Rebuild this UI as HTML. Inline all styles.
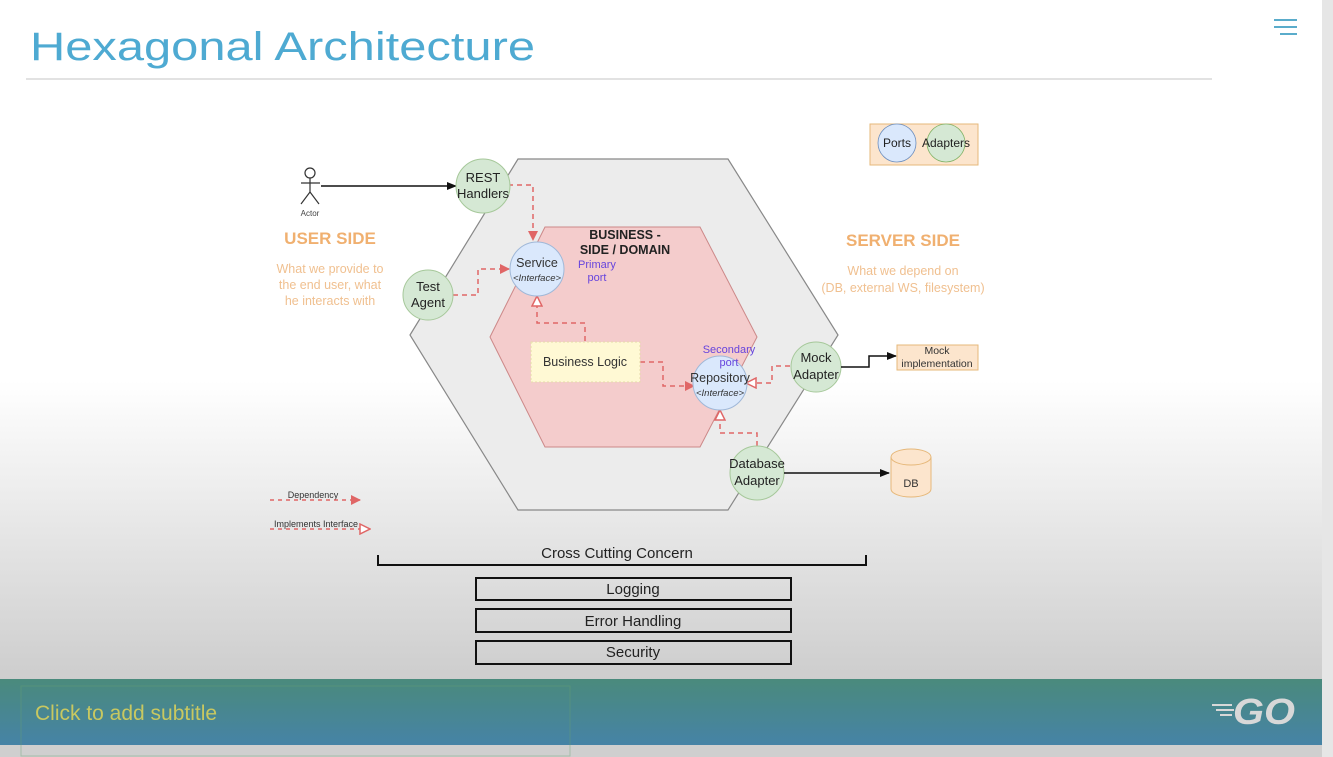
<!DOCTYPE html>
<html><head><meta charset="utf-8"><style>
html,body{margin:0;padding:0;width:1333px;height:757px;overflow:hidden;background:#c9c9c9}
svg{display:block}
text{font-family:"Liberation Sans",sans-serif}
</style></head><body>
<svg width="1333" height="757" viewBox="0 0 1333 757" xmlns="http://www.w3.org/2000/svg">
<defs>
<linearGradient id="bg" x1="0" y1="0" x2="0" y2="1">
<stop offset="0" stop-color="#ffffff"/><stop offset="0.56" stop-color="#ffffff"/><stop offset="0.72" stop-color="#ededed"/><stop offset="1" stop-color="#cdcdcd"/>
</linearGradient>
<linearGradient id="band" x1="0" y1="0" x2="0" y2="1">
<stop offset="0" stop-color="#4a8a7c"/><stop offset="1" stop-color="#4683a6"/>
</linearGradient>
<marker id="ad" markerWidth="10" markerHeight="10" refX="9" refY="5" orient="auto" markerUnits="userSpaceOnUse"><path d="M0,0 L10,5 L0,10z" fill="#e06666"/></marker>
<marker id="ai" markerWidth="12" markerHeight="12" refX="11" refY="6" orient="auto" markerUnits="userSpaceOnUse"><path d="M1,1 L11,6 L1,11z" fill="#fff" stroke="#e06666" stroke-width="1.5"/></marker>
<marker id="ab" markerWidth="10" markerHeight="10" refX="9" refY="5" orient="auto" markerUnits="userSpaceOnUse"><path d="M0,1 L10,5 L0,9z" fill="#111"/></marker>
</defs>
<rect x="0" y="0" width="1333" height="757" fill="#cfcfcf"/>
<rect x="0" y="0" width="1322" height="680" fill="url(#bg)"/>
<rect x="1322" y="0" width="11" height="757" fill="#e6e6e6"/>
<rect x="0" y="679" width="1322" height="66" fill="url(#band)"/>
<rect x="21" y="686" width="549" height="70" fill="none" stroke="#6aa070" stroke-width="1" opacity="0.4"/>
<text x="35" y="720" font-size="21" fill="#c8c860">Click to add subtitle</text>
<text x="1233" y="724" font-size="36" font-weight="bold" font-style="italic" fill="#d8d8d8" textLength="62" lengthAdjust="spacingAndGlyphs">GO</text>
<g stroke="#d8d8d8" stroke-width="2"><line x1="1212" y1="705" x2="1232" y2="705"/><line x1="1216" y1="710" x2="1234" y2="710"/><line x1="1220" y1="715" x2="1232" y2="715"/></g>
<g stroke="#5aaccb" stroke-width="2"><line x1="1274" y1="20" x2="1297" y2="20"/><line x1="1274" y1="27" x2="1297" y2="27"/><line x1="1280" y1="34" x2="1297" y2="34"/></g>
<text x="30" y="60" font-size="40" fill="#4eaad2" textLength="505" lengthAdjust="spacingAndGlyphs">Hexagonal Architecture</text>
<line x1="26" y1="79" x2="1212" y2="79" stroke="#e2e2e2" stroke-width="2"/>

<polygon points="410,335 518,159 728,159 838,335 728,510 518,510" fill="#ececec" stroke="#888" stroke-width="1.2"/>
<polygon points="490,337 545,227 700,227 757,337 700,447 545,447" fill="#f4cccc" stroke="#c88" stroke-width="1"/>

<rect x="870" y="124" width="108" height="41" fill="#fce5cd" stroke="#e6b87a"/>
<circle cx="897" cy="143" r="19" fill="#dae8fc" stroke="#6c8ebf" stroke-width="0.8"/>
<circle cx="946" cy="143" r="19" fill="#d5e8d4" stroke="#82b366" stroke-width="0.8"/>
<text x="897" y="147" font-size="12" text-anchor="middle" fill="#222">Ports</text>
<text x="946" y="147" font-size="12" text-anchor="middle" fill="#222">Adapters</text>

<g stroke="#333" stroke-width="1.2" fill="none"><circle cx="310" cy="173" r="5"/><line x1="310" y1="178" x2="310" y2="192"/><line x1="301" y1="183" x2="320" y2="183"/><line x1="310" y1="192" x2="301" y2="204"/><line x1="310" y1="192" x2="319" y2="204"/></g>
<text x="310" y="216" font-size="8" text-anchor="middle" fill="#444">Actor</text>
<line x1="321" y1="186" x2="456" y2="186" stroke="#111" stroke-width="1.5" marker-end="url(#ab)"/>

<text x="330" y="244" font-size="17" font-weight="bold" text-anchor="middle" fill="#f0b070">USER SIDE</text>
<g font-size="12.5" text-anchor="middle" fill="#f0c090"><text x="330" y="273">What we provide to</text><text x="330" y="289">the end user, what</text><text x="330" y="305">he interacts with</text></g>
<text x="903" y="246" font-size="17" font-weight="bold" text-anchor="middle" fill="#f0b070">SERVER SIDE</text>
<g font-size="12.5" text-anchor="middle" fill="#f0c090"><text x="903" y="275">What we depend on</text><text x="903" y="292">(DB, external WS, filesystem)</text></g>

<g fill="none" stroke="#e06666" stroke-width="1.5" stroke-dasharray="5,4">
<path d="M508,185 L533,185 L533,240" marker-end="url(#ad)"/>
<path d="M453,295 L478,295 L478,269 L509,269" marker-end="url(#ad)"/>
<path d="M585,341 L585,323 L537,323 L537,296" marker-end="url(#ai)"/>
<path d="M640,362 L663,362 L663,386 L694,386" marker-end="url(#ad)"/>
<path d="M790,366 L772,366 L772,383 L746,383" marker-end="url(#ai)"/>
<path d="M757,446 L757,433 L720,433 L720,410" marker-end="url(#ai)"/>
</g>

<rect x="531" y="342" width="109" height="40" fill="#fff9d4" stroke="#e6dcaa" stroke-dasharray="2,2"/>
<text x="585" y="366" font-size="12.5" text-anchor="middle" fill="#333">Business Logic</text>
<text x="625" y="239" font-size="12.5" font-weight="bold" text-anchor="middle" fill="#222">BUSINESS -</text>
<text x="625" y="254" font-size="12.5" font-weight="bold" text-anchor="middle" fill="#222">SIDE / DOMAIN</text>
<text x="597" y="268" font-size="11" text-anchor="middle" fill="#6644dd">Primary</text>
<text x="597" y="281" font-size="11" text-anchor="middle" fill="#6644dd">port</text>

<circle cx="483" cy="186" r="27" fill="#d5e8d4" stroke="#a6c89a"/>
<text x="483" y="182" font-size="13" text-anchor="middle" fill="#222">REST</text>
<text x="483" y="198" font-size="13" text-anchor="middle" fill="#222">Handlers</text>
<circle cx="537" cy="269" r="27" fill="#dae8fc" stroke="#a0b8d8"/>
<text x="537" y="267" font-size="12.5" text-anchor="middle" fill="#333">Service</text>
<text x="537" y="281" font-size="9.5" font-style="italic" text-anchor="middle" fill="#333">&lt;Interface&gt;</text>
<circle cx="428" cy="295" r="25" fill="#d5e8d4" stroke="#a6c89a"/>
<text x="428" y="291" font-size="13" text-anchor="middle" fill="#222">Test</text>
<text x="428" y="307" font-size="13" text-anchor="middle" fill="#222">Agent</text>
<circle cx="720" cy="383" r="27" fill="#dae8fc" stroke="#a0b8d8"/>
<text x="729" y="353" font-size="11" text-anchor="middle" fill="#6644dd">Secondary</text>
<text x="729" y="366" font-size="11" text-anchor="middle" fill="#6644dd">port</text>
<text x="720" y="382" font-size="12.5" text-anchor="middle" fill="#333">Repository</text>
<text x="720" y="396" font-size="9.5" font-style="italic" text-anchor="middle" fill="#333">&lt;Interface&gt;</text>
<circle cx="816" cy="367" r="25" fill="#d5e8d4" stroke="#a6c89a"/>
<text x="816" y="362" font-size="13" text-anchor="middle" fill="#222">Mock</text>
<text x="816" y="379" font-size="13" text-anchor="middle" fill="#222">Adapter</text>
<circle cx="757" cy="473" r="27" fill="#d5e8d4" stroke="#a6c89a"/>
<text x="757" y="468" font-size="13" text-anchor="middle" fill="#222">Database</text>
<text x="757" y="485" font-size="13" text-anchor="middle" fill="#222">Adapter</text>

<path d="M841,367 L869,367 L869,356 L896,356" fill="none" stroke="#111" stroke-width="1.5" marker-end="url(#ab)"/>
<rect x="897" y="345" width="81" height="25" fill="#fce5cd" stroke="#e6b87a"/>
<text x="937" y="354" font-size="10.5" text-anchor="middle" fill="#333">Mock</text>
<text x="937" y="367" font-size="10.5" text-anchor="middle" fill="#333">implementation</text>
<line x1="784" y1="473" x2="889" y2="473" stroke="#111" stroke-width="1.5" marker-end="url(#ab)"/>
<path d="M891,457 L891,489 A20,8 0 0 0 931,489 L931,457" fill="#fce5cd" stroke="#e6b87a"/>
<ellipse cx="911" cy="457" rx="20" ry="8" fill="#fce5cd" stroke="#e6b87a"/>
<text x="911" y="487" font-size="11" text-anchor="middle" fill="#333">DB</text>

<text x="313" y="498" font-size="9" text-anchor="middle" fill="#333">Dependency</text>
<line x1="270" y1="500" x2="360" y2="500" stroke="#e06666" stroke-width="1.5" stroke-dasharray="4,4" marker-end="url(#ad)"/>
<text x="316" y="527" font-size="9" text-anchor="middle" fill="#333">Implements Interface</text>
<line x1="270" y1="529" x2="370" y2="529" stroke="#e06666" stroke-width="1.5" stroke-dasharray="4,4" marker-end="url(#ai)"/>

<text x="617" y="558" font-size="15" text-anchor="middle" fill="#222">Cross Cutting Concern</text>
<path d="M378,555 L378,565 L866,565 L866,555" fill="none" stroke="#111" stroke-width="2"/>
<g fill="none" stroke="#111" stroke-width="2">
<rect x="476" y="578" width="315" height="22"/><rect x="476" y="609" width="315" height="23"/><rect x="476" y="641" width="315" height="23"/></g>
<g font-size="15" text-anchor="middle" fill="#222"><text x="633" y="594">Logging</text><text x="633" y="626">Error Handling</text><text x="633" y="657">Security</text></g>
</svg>
</body></html>
